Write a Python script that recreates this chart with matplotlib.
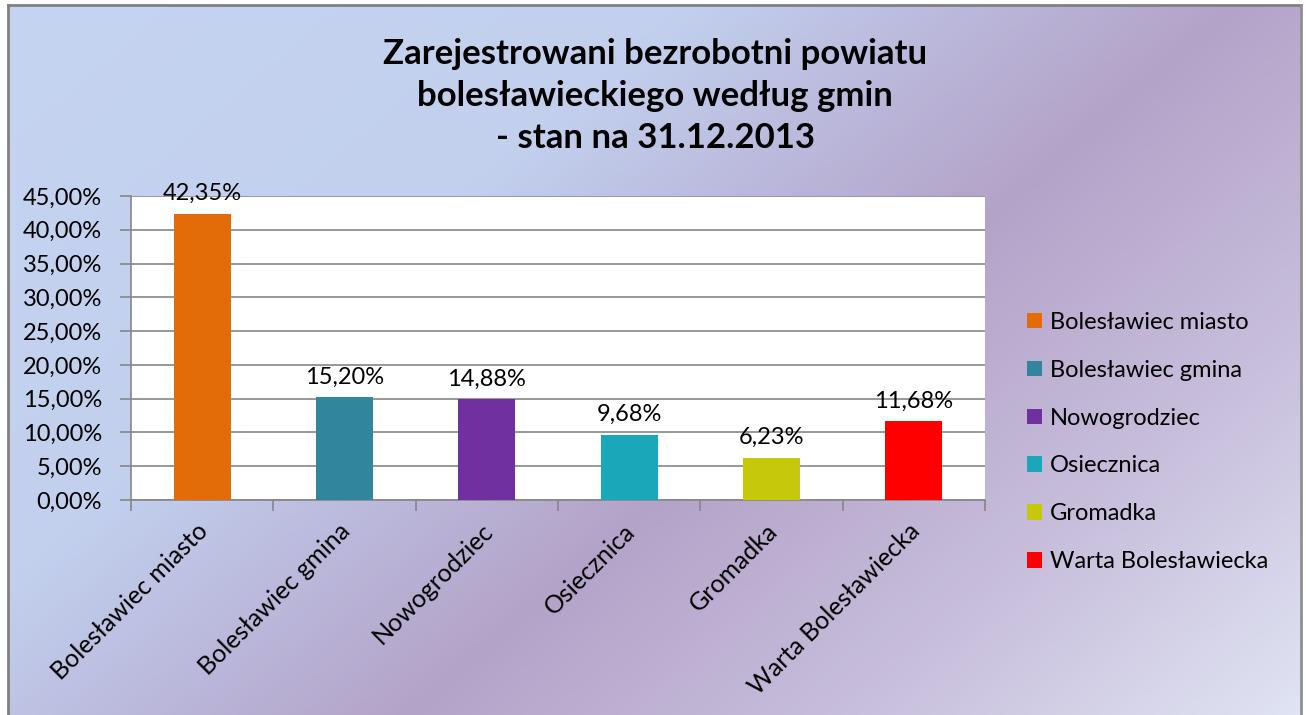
import numpy as np
import matplotlib
matplotlib.use('Agg')
import matplotlib.pyplot as plt
import matplotlib.transforms as mtransforms
from matplotlib.colors import LinearSegmentedColormap
from matplotlib.patches import Patch
from matplotlib.ticker import FuncFormatter, FixedLocator

# dane
gminy = ["Bolesławiec miasto", "Bolesławiec gmina", "Nowogrodziec",
         "Osiecznica", "Gromadka", "Warta Bolesławiecka"]
udzial = [0.4235, 0.1520, 0.1488, 0.0968, 0.0623, 0.1168]
kolory = ["#E36C09", "#31859C", "#7030A0", "#1AA7B9", "#C5C90A", "#FF0000"]
tytul = "Zarejestrowani bezrobotni powiatu\nbolesławieckiego według gmin\n- stan na 31.12.2013"

W, H = 1306, 715
FS = 17
plt.rcParams['font.family'] = ['Lato', 'DejaVu Sans']

fig = plt.figure(figsize=(W / 100, H / 100), dpi=100)
fig.patch.set_facecolor('white')

# tło z gradientem
bg = fig.add_axes([8 / W, 0, (1301 - 8) / W, 1 - 5 / H], zorder=-2)
xx, yy = np.meshgrid(np.linspace(8, 1301, 400), np.linspace(5, 715, 250))
t = (600 * xx + 700 * yy) / (600 * 1306 + 700 * 715)
cmap = LinearSegmentedColormap.from_list(
    'tlo', [(0, '#C5D4F0'), (0.32, '#C2D0EE'), (0.58, '#B4A3C9'),
            (0.8, '#C9C0DD'), (1.0, '#E0E4F3')])
bg.imshow(t, cmap=cmap, aspect='auto', extent=[0, 1, 0, 1], origin='upper',
          vmin=0, vmax=1, interpolation='bilinear')
bg.set_xlim(0, 1)
bg.set_ylim(0, 1)
bg.set_xticks([])
bg.set_yticks([])
for s in ['top', 'right', 'bottom']:
    bg.spines[s].set_visible(False)
bg.spines['left'].set_color('#808080')
bg.spines['left'].set_linewidth(2)
fig.add_artist(plt.Line2D([8 / W, 1301 / W], [1 - 5 / H, 1 - 5 / H],
                          color='#808080', lw=2, transform=fig.transFigure))
fig.add_artist(plt.Line2D([1301 / W, 1301 / W], [0, 1 - 5 / H],
                          color='#909090', lw=2, transform=fig.transFigure))

# wykres
ax = fig.add_axes([131 / W, 1 - 500 / H, (985 - 131) / W, (500 - 196) / H])
ax.set_facecolor('white')
x = np.arange(len(gminy))
bars = ax.bar(x, udzial, width=0.4, color=kolory, zorder=3)
ax.set_xlim(-0.5, len(gminy) - 0.5)
ax.set_ylim(0, 0.45)
ax.set_yticks(np.arange(0, 0.451, 0.05))
ax.yaxis.set_major_formatter(FuncFormatter(lambda v, p: f"{v * 100:.2f}%".replace('.', ',')))
ax.grid(axis='y', color='#868686', lw=1.2, zorder=0)
ax.set_axisbelow(True)
for s in ['top', 'right']:
    ax.spines[s].set_visible(False)
for s in ['left', 'bottom']:
    ax.spines[s].set_color('#868686')
    ax.spines[s].set_linewidth(1.2)
ax.tick_params(axis='y', length=8, color='#868686', width=1.2, labelsize=FS, pad=13)

ax.set_xticks(x)
ax.set_xticklabels(gminy, rotation=45, ha='right', rotation_mode='anchor', fontsize=18)
ax.tick_params(axis='x', which='major', length=0, pad=14)
ax.xaxis.set_minor_locator(FixedLocator(np.arange(-0.5, len(gminy), 1)))
ax.tick_params(axis='x', which='minor', length=8, color='#868686', width=1.2)
przesun = mtransforms.ScaledTranslation(-6 / 100, 0, fig.dpi_scale_trans)
for lab in ax.get_xticklabels():
    lab.set_transform(lab.get_transform() + przesun)

for b, v in zip(bars, udzial):
    ax.annotate(f"{v * 100:.2f}%".replace('.', ','), (b.get_x() + b.get_width() / 2, v),
                xytext=(0, 7), textcoords='offset points', ha='center', va='bottom',
                fontsize=FS, annotation_clip=False)

fig.text(655 / W, 1 - 96 / H, tytul, ha='center', va='center', fontsize=25,
         fontweight='bold', linespacing=1.4)

# legenda
uchwyty = [Patch(facecolor=c, edgecolor='none') for c in kolory]
fig.legend(uchwyty, gminy, loc='center left', bbox_to_anchor=(1006 / W, 1 - 442 / H),
           frameon=False, fontsize=FS, handlelength=0.62, handleheight=0.62,
           handletextpad=0.35, labelspacing=1.14)

fig.savefig('out.png', dpi=100)
